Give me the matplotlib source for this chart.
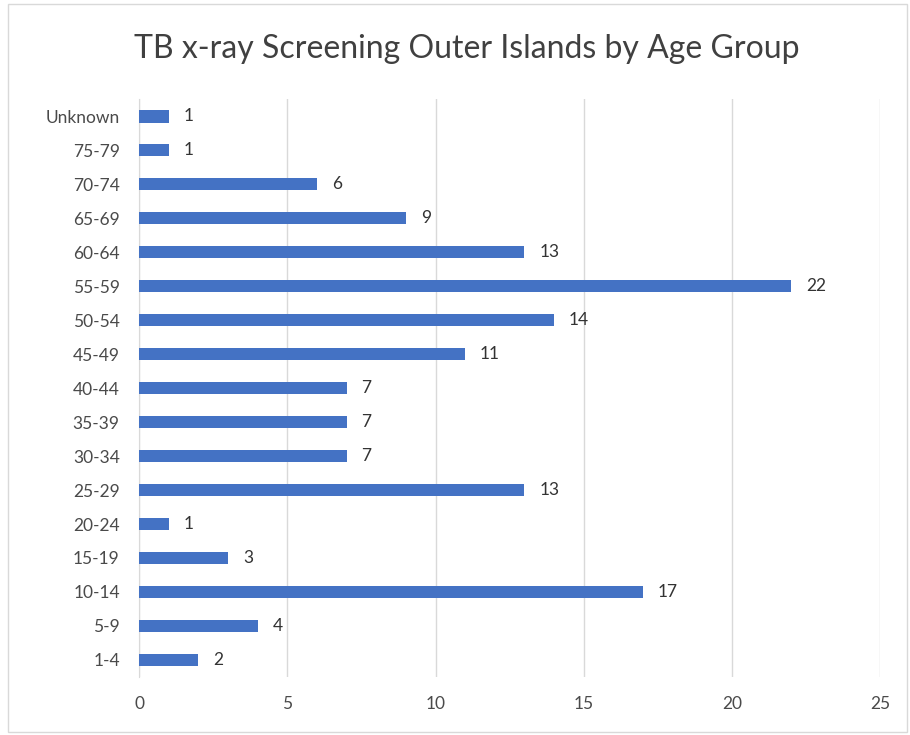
import matplotlib
matplotlib.use('Agg')
import matplotlib.pyplot as plt
from matplotlib.patches import Rectangle

# data, bottom to top as drawn
age_groups = ['1-4', '5-9', '10-14', '15-19', '20-24', '25-29', '30-34', '35-39',
              '40-44', '45-49', '50-54', '55-59', '60-64', '65-69', '70-74', '75-79', 'Unknown']
counts = [2, 4, 17, 3, 1, 13, 7, 7, 7, 11, 14, 22, 13, 9, 6, 1, 1]
x_ticks = [0, 5, 10, 15, 20, 25]

plt.rcParams['font.family'] = ['Lato', 'DejaVu Sans']
text_col = '#4a4a4a'

fig = plt.figure(figsize=(9.1, 7.35), dpi=100)
ax = fig.add_axes([0.153, 0.079, 0.814, 0.786])

ax.barh(age_groups, counts, height=0.37, color='#4472C4', zorder=3)
for i, v in enumerate(counts):
    ax.text(v + 0.5, i, str(v), va='center', ha='left', fontsize=12.5, color='#333333')

ax.set_xlim(0, 25)
ax.set_ylim(-0.5, len(age_groups) - 0.5)
ax.set_xticks(x_ticks)
ax.xaxis.grid(True, color='#D9D9D9', linewidth=1, zorder=0)
ax.tick_params(axis='both', length=0, labelsize=12.5, colors=text_col)
ax.tick_params(axis='x', pad=14)
ax.tick_params(axis='y', pad=14)
for s in ['top', 'right', 'bottom']:
    ax.spines[s].set_visible(False)
ax.spines['left'].set_color('#D9D9D9')

fig.text(0.513, 0.934, 'TB x-ray Screening Outer Islands by Age Group',
         ha='center', va='center', fontsize=23, color='#404040')

# chart border
fig.patches.append(Rectangle((0.009, 0.004), 0.988, 0.99, transform=fig.transFigure,
                             fill=False, edgecolor='#D9D9D9', linewidth=1))

fig.savefig('out.png', dpi=100)
